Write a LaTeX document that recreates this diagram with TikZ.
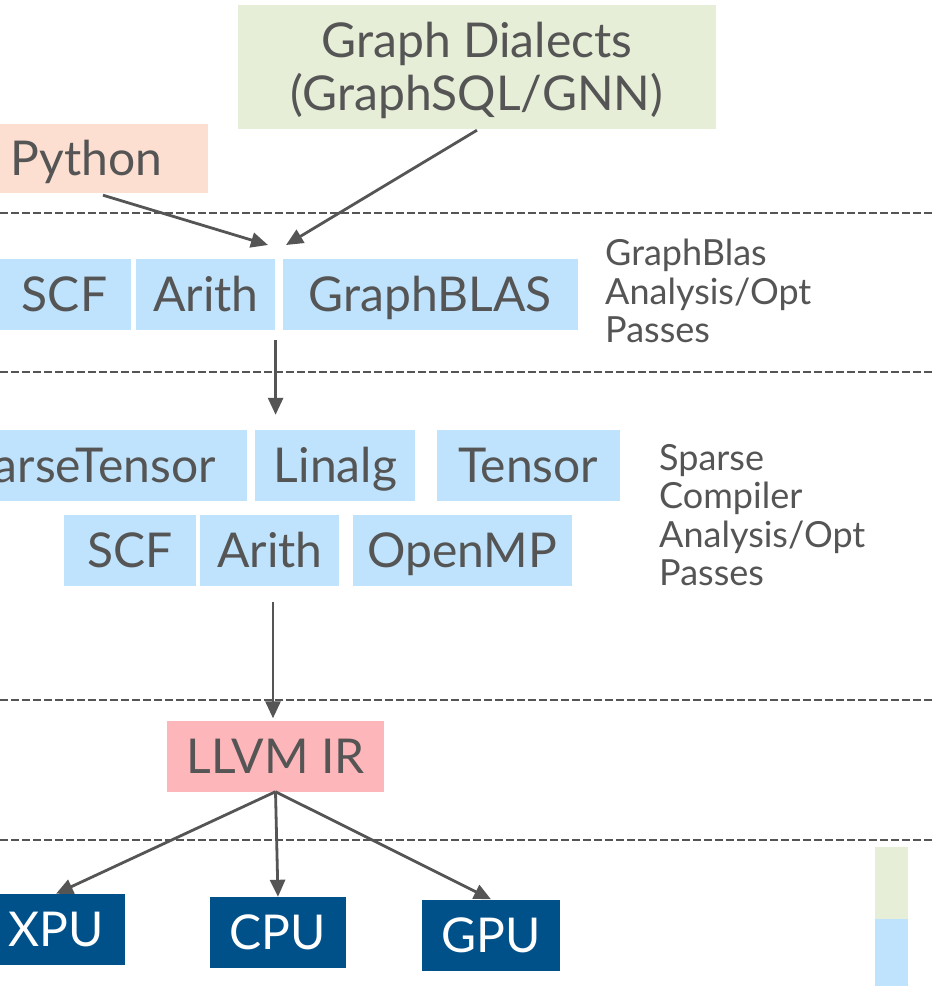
\documentclass[tikz,border=0pt]{standalone}
\usepackage{fontspec}
\setmainfont{Lato}
\usetikzlibrary{positioning,arrows.meta}

\definecolor{dialectgreen}{HTML}{E6EED8}
\definecolor{pyorange}{HTML}{FCDFD1}
\definecolor{passblue}{HTML}{BFE3FC}
\definecolor{irpink}{HTML}{FDB6BA}
\definecolor{hwblue}{HTML}{00508A}
\definecolor{inkgray}{HTML}{555555}

\begin{document}
\begin{tikzpicture}[x=1pt,y=-1pt,
    font=\fontsize{48}{53}\selectfont,
    text=inkgray,
    box/.style={fill=passblue, inner sep=0pt, minimum height=71pt,
        text height=34pt, text depth=0pt},
    hwbox/.style={box, fill=hwblue, text=white},
    passtext/.style={font=\fontsize{36}{38.5}\selectfont, align=left,
        anchor=west, inner sep=0pt},
    arr/.style={draw=inkgray, line width=2.8pt,
        -{Triangle[length=17pt,width=15pt]}},
    layer/.style={draw=inkgray, line width=2.4pt, dash pattern=on 8pt off 3pt}]

\clip (0,0) rectangle (935,986);
\fill[white] (0,0) rectangle (935,986);

% Front ends
\node[fill=dialectgreen,
    inner sep=0pt,
    align=center,
    minimum width=478pt,
    minimum height=124pt] (dialects) at (477,67) {};
\node[align=center, inner sep=0pt] (dialectstext) at ([yshift=-3pt]dialects.center)
    {Graph Dialects\\(GraphSQL/GNN)};

\node[box,
    fill=pyorange,
    minimum width=243pt,
    minimum height=69pt] (python) at (86.5,158.5) {Python};

% Layer separators
\foreach \ly in {213,372,700,840}
    \draw[layer] (0,\ly) -- (935,\ly);

% GraphBLAS dialects
\node[box,
    minimum width=133pt] (scfA) at (64.5,294.5) {SCF};

\node[box,
    right=5pt of scfA,
    minimum width=139pt] (arithA) {Arith};

\node[box,
    right=7pt of arithA,
    minimum width=295pt] (graphblas) {GraphBLAS};

\node[passtext] (blaspass) at (605,291) {GraphBlas\\Analysis/Opt\\Passes};

% Sparse compiler dialects
\node[box,
    minimum width=337pt] (sparsetensor) at (78.5,465.5) {SparseTensor};

\node[box,
    right=8pt of sparsetensor,
    minimum width=160pt] (linalg) {Linalg};

\node[box,
    right=21pt of linalg,
    minimum width=183pt] (tensor) {Tensor};

\node[box,
    minimum width=132pt] (scfB) at (130,550) {SCF};

\node[box,
    right=4pt of scfB,
    minimum width=139pt] (arithB) {Arith};

\node[box,
    right=13pt of arithB,
    minimum width=219pt] (openmp) {OpenMP};

\node[passtext] (sparsepass) at (659,515) {Sparse\\Compiler\\Analysis/Opt\\Passes};

% LLVM
\node[box,
    fill=irpink,
    minimum width=217pt] (llvm) at (275.5,756) {LLVM IR};

% Targets
\node[hwbox,
    minimum width=138pt] (xpu) at (56,929.5) {XPU};

\node[hwbox,
    minimum width=136pt] (cpu) at (278,932.5) {CPU};

\node[hwbox,
    minimum width=138pt] (gpu) at (491,935) {GPU};

% Legend
\node[fill=dialectgreen, inner sep=0pt,
    minimum width=33pt, minimum height=72pt] (keygreen) at (891.5,883) {};
\node[fill=passblue, inner sep=0pt, below=0pt of keygreen,
    minimum width=33pt, minimum height=67pt] (keyblue) {};

% Arrows
\coordinate (inA) at (268,245);
\coordinate (inB) at (286,245);
\coordinate (outA) at ([yshift=-10pt]arithA.south east);
\coordinate (outB) at (273,602);

\draw[arr] ([xshift=16.5pt,yshift=-2pt]python.south) -- (inA);
\draw[arr] ([yshift=-1pt]dialects.south) -- (inB);
\draw[arr] (outA) -- ([yshift=15pt]outA |- linalg.north);
\draw[arr] (outB) -- ([yshift=2pt]outB |- llvm.north);

\draw[arr] (llvm.south) -- (xpu.north);
\draw[arr] (llvm.south) -- (cpu.north);
\draw[arr] (llvm.south) -- (gpu.north);

\end{tikzpicture}
\end{document}
